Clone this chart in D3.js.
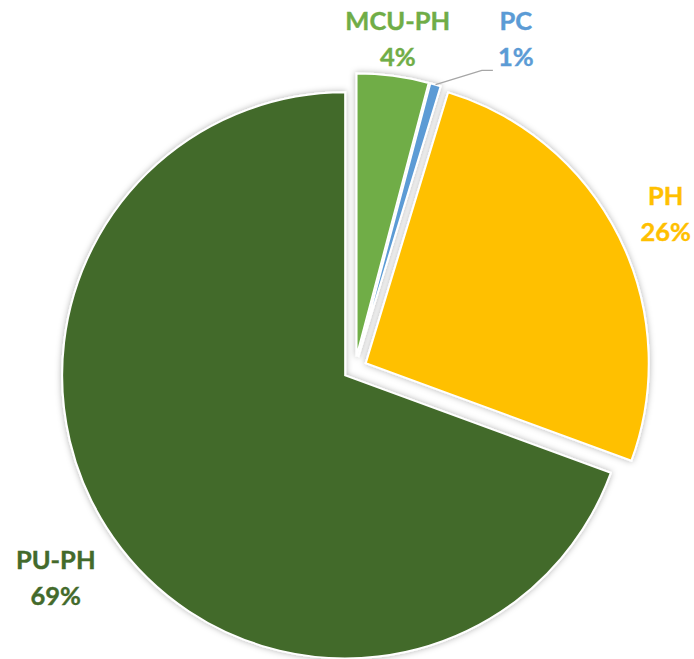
<!DOCTYPE html>
<html><head><meta charset="utf-8">
<script src="https://cdn.jsdelivr.net/npm/d3@7"></script>
<style>html,body{margin:0;padding:0;background:#fff;}svg{display:block;}</style>
</head><body>
<svg id="chart" width="694" height="659"></svg>
<script>
// ---- data ----
const categories = ["MCU-PH", "PC", "PH", "PU-PH"];
const values = [4.1, 0.6, 25.9, 69.4];
const percentLabels = ["4%", "1%", "26%", "69%"];
const colors = ["#70AD47", "#5B9BD5", "#FFC000", "#436A2B"];

// ---- layout ----
const W = 694, H = 659;
const cx = 355, cy = 368.5, R = 283, explode = 12;
const labelRadius = [333, 367, 347, 365];
const labelAngleOverride = [null, 26, null, null]; // degrees (clockwise from top)

const svg = d3.select("#chart");
const defs = svg.append("defs");
const f = defs.append("filter").attr("id","sh").attr("x","-20%").attr("y","-20%").attr("width","140%").attr("height","140%");
f.append("feDropShadow").attr("dx",0).attr("dy",0).attr("stdDeviation",3).attr("flood-color","#000").attr("flood-opacity",0.3);

const pie = d3.pie().sort(null).value(d => d)(values);
const arc = d3.arc().innerRadius(0).outerRadius(R);

const g = svg.append("g").attr("transform", `translate(${cx},${cy})`).attr("filter","url(#sh)");
g.selectAll("path").data(pie).join("path")
  .attr("d", arc)
  .attr("fill", (d,i) => colors[i])
  .attr("stroke", "#fff").attr("stroke-width", 2).attr("stroke-linejoin","miter")
  .attr("transform", d => {
    const a = (d.startAngle + d.endAngle) / 2;
    return `translate(${explode*Math.sin(a)},${-explode*Math.cos(a)})`;
  });

// labels
const lg = svg.append("g").attr("transform", `translate(${cx},${cy})`);
pie.forEach((d, i) => {
  const mid = (d.startAngle + d.endAngle) / 2;
  const a = labelAngleOverride[i] != null ? labelAngleOverride[i] * Math.PI / 180 : mid;
  const lx = labelRadius[i] * Math.sin(a), ly = -labelRadius[i] * Math.cos(a);
  const t = lg.append("text")
    .attr("x", lx).attr("y", ly)
    .attr("text-anchor", "middle")
    .attr("font-family", "Lato, 'Open Sans', sans-serif")
    .attr("font-weight", 700).attr("font-size", 25.5)
    .attr("stroke", colors[i]).attr("stroke-width", 0.4)
    .attr("fill", colors[i]);
  t.append("tspan").attr("x", lx).attr("dy", -8.5).text(categories[i]);
  t.append("tspan").attr("x", lx).attr("dy", 36).text(percentLabels[i]);
  if (labelAngleOverride[i] != null) {
    // leader line from slice edge to label
    const ox = explode*Math.sin(mid), oy = -explode*Math.cos(mid);
    const sx = ox + R*Math.sin(mid), sy = oy - R*Math.cos(mid);
    const ex = lx - 23, ey = ly + 31.7;
    lg.append("polyline")
      .attr("points", `${sx},${sy} ${ex-11},${ey} ${ex},${ey}`)
      .attr("fill","none").attr("stroke","#A6A6A6").attr("stroke-width",1.3);
  }
});
</script>
</body></html>
